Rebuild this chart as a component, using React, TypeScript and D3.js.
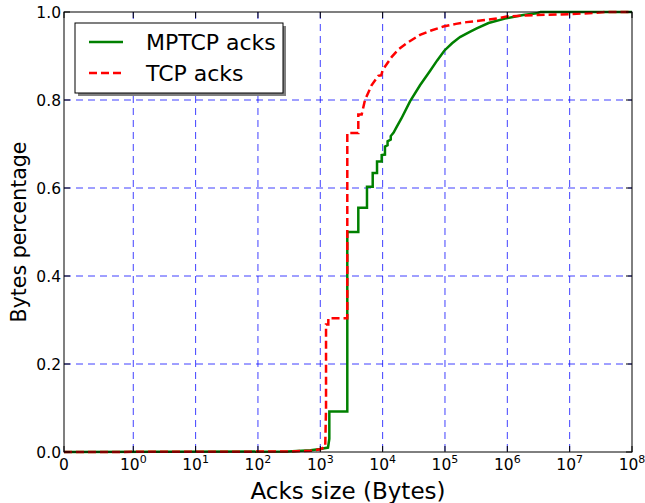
import React from 'react';
import * as d3 from 'd3';

// CDF of ack sizes: [bytes, fraction]
const mptcpAcks: [number, number][] = [
  [0, 0], [300, 0.001], [700, 0.004], [1000, 0.007], [1330, 0.01],
  [1396, 0.03], [1396, 0.092], [2711, 0.092], [2711, 0.3], [2711, 0.5],
  [4071, 0.5], [4071, 0.555], [5610, 0.555], [5610, 0.603], [6930, 0.603],
  [6930, 0.634], [8130, 0.634], [8130, 0.66], [9660, 0.66], [9660, 0.675],
  [10900, 0.676], [10900, 0.694], [12000, 0.697], [12000, 0.706], [13500, 0.71],
  [13500, 0.718], [15000, 0.726], [16800, 0.739], [20000, 0.758], [27500, 0.797],
  [40000, 0.834], [57500, 0.866], [75000, 0.89], [97500, 0.912], [130000, 0.929],
  [174000, 0.943], [250000, 0.955], [323000, 0.963], [500000, 0.975], [977000, 0.986],
  [1.8e6, 0.993], [2.96e6, 0.997], [3.4e6, 1.0], [1e8, 1.0],
];

const tcpAcks: [number, number][] = [
  [0, 0], [300, 0.001], [700, 0.003], [1000, 0.006], [1200, 0.012],
  [1236, 0.1], [1236, 0.29], [1345, 0.29], [1345, 0.304], [2711, 0.304],
  [2711, 0.5], [2711, 0.725], [4071, 0.725], [4071, 0.767], [4610, 0.767],
  [5210, 0.8], [6680, 0.834], [8500, 0.855], [9500, 0.856], [10000, 0.868],
  [14000, 0.898], [18000, 0.915], [24300, 0.929], [39800, 0.948], [60000, 0.958],
  [94200, 0.967], [150000, 0.973], [223000, 0.977], [400000, 0.981], [676000, 0.985],
  [977000, 0.99], [3e6, 0.993], [9.5e6, 0.995], [2.7e7, 0.998], [3.7e7, 1.0],
  [1e8, 1.0],
];

const xTicks = [0, 1, 10, 100, 1e3, 1e4, 1e5, 1e6, 1e7, 1e8];
const xTickExp = [null, '0', '1', '2', '3', '4', '5', '6', '7', '8'];
const yTicks = [0, 0.2, 0.4, 0.6, 0.8, 1.0];

const legendItems = [
  { label: 'MPTCP acks', color: 'green', dash: null as string | null },
  { label: 'TCP acks', color: 'red', dash: '8,4' },
];

const FONT = 'DejaVu Sans, sans-serif';

export default function App() {
  const width = 645, height = 503;
  const left = 64, right = 632, top = 12, bottom = 452;

  // symlog, linear threshold 1 (linear part = 1/0.9 decade, like matplotlib)
  const k = 1 / 0.9;
  const tr = (v: number) => (v <= 1 ? v * k : k + Math.log10(v));
  const xLin = d3.scaleLinear().domain([0, tr(1e8)]).range([left, right]);
  const x = (v: number) => xLin(tr(v));
  const y = d3.scaleLinear().domain([0, 1]).range([bottom, top]);

  const line = d3.line<[number, number]>()
    .x(d => x(d[0]))
    .y(d => y(d[1]));

  return (
    <svg width={width} height={height}
      style={{ position: 'absolute', left: 0, top: 0, background: 'white' }}
      fontFamily={FONT}>
      <defs>
        <clipPath id="plot">
          <rect x={left} y={top - 2} width={right - left} height={bottom - top + 4} />
        </clipPath>
      </defs>
      <rect x={0} y={0} width={width} height={height} fill="white" />

      {/* grid */}
      <g stroke="blue" strokeOpacity={0.75} strokeWidth={1} strokeDasharray="7,5">
        {xTicks.slice(1, -1).map((t, i) => (
          <line key={'gx' + i} x1={x(t)} x2={x(t)} y1={top} y2={bottom} />
        ))}
        {yTicks.slice(1, -1).map((t, i) => (
          <line key={'gy' + i} x1={left} x2={right} y1={y(t)} y2={y(t)} />
        ))}
      </g>

      {/* data */}
      <g clipPath="url(#plot)" fill="none">
        <path d={line(mptcpAcks) || ''} stroke="green" strokeWidth={2.5} />
        <path d={line(tcpAcks) || ''} stroke="red" strokeWidth={2.5} strokeDasharray="8,4" />
      </g>

      {/* ticks */}
      <g stroke="black" strokeWidth={1}>
        {xTicks.map((t, i) => (
          <g key={'tx' + i}>
            <line x1={x(t)} x2={x(t)} y1={bottom} y2={bottom - 6} />
            <line x1={x(t)} x2={x(t)} y1={top} y2={top + 6} />
          </g>
        ))}
        {yTicks.map((t, i) => (
          <g key={'ty' + i}>
            <line x1={left} x2={left + 6} y1={y(t)} y2={y(t)} />
            <line x1={right} x2={right - 6} y1={y(t)} y2={y(t)} />
          </g>
        ))}
      </g>

      {/* frame */}
      <rect x={left} y={top} width={right - left} height={bottom - top}
        fill="none" stroke="black" strokeWidth={1} />

      {/* x tick labels */}
      <g fontSize={15.5} fill="black">
        {xTicks.map((t, i) => (
          <text key={'lx' + i} x={x(t)} y={470} textAnchor="middle">
            {xTickExp[i] === null ? '0' : (
              <>
                <tspan>10</tspan>
                <tspan fontSize={11} dy={-7}>{xTickExp[i]}</tspan>
              </>
            )}
          </text>
        ))}
      </g>

      {/* y tick labels */}
      <g fontSize={15.5} fill="black">
        {yTicks.map((t, i) => (
          <text key={'ly' + i} x={61} y={y(t)} dy="0.36em" textAnchor="end">
            {d3.format('.1f')(t)}
          </text>
        ))}
      </g>

      {/* axis labels */}
      <text x={(left + right) / 2} y={499} textAnchor="middle" fontSize={23}>
        Acks size (Bytes)
      </text>
      <text transform={`translate(26,${(top + bottom) / 2}) rotate(-90)`}
        textAnchor="middle" fontSize={20.5}>
        Bytes percentage
      </text>

      {/* legend */}
      <g>
        <rect x={78} y={26} width={208} height={70} fill="#808080" />
        <rect x={75} y={23} width={208} height={70} fill="white" stroke="black" strokeWidth={1} />
        {legendItems.map((it, i) => (
          <g key={'lg' + i} transform={`translate(0,${42 + i * 31})`}>
            <line x1={89} x2={123} y1={0} y2={0} stroke={it.color} strokeWidth={2.5}
              strokeDasharray={it.dash || undefined} />
            <text x={146} y={0} dy="0.35em" fontSize={22}>{it.label}</text>
          </g>
        ))}
      </g>
    </svg>
  );
}
